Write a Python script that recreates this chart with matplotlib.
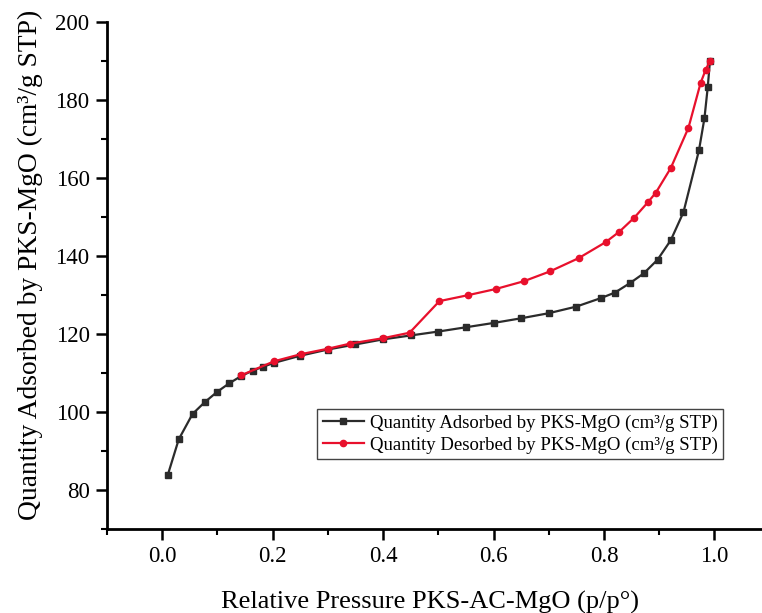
import matplotlib
matplotlib.use('Agg')
from matplotlib import pyplot as plt
from matplotlib.ticker import MultipleLocator

plt.rcParams['font.family'] = ['Liberation Serif', 'DejaVu Serif']

# adsorption branch
p_ads = [0.010, 0.030, 0.055, 0.077, 0.100, 0.121, 0.143, 0.164, 0.183, 0.203,
         0.250, 0.300, 0.350, 0.400, 0.450, 0.500, 0.550, 0.600, 0.650, 0.700,
         0.750, 0.795, 0.820, 0.847, 0.872, 0.897, 0.921, 0.944, 0.972, 0.982,
         0.988, 0.992]
q_ads = [83.8, 93.0, 99.5, 102.5, 105.2, 107.3, 109.2, 110.6, 111.6, 112.6,
         114.4, 116.0, 117.3, 118.6, 119.6, 120.6, 121.7, 122.8, 124.0, 125.3,
         127.0, 129.2, 130.6, 133.0, 135.5, 139.0, 144.0, 151.2, 167.0, 175.3,
         183.3, 190.0]

# desorption branch
p_des = [0.143, 0.203, 0.251, 0.300, 0.340, 0.400, 0.448, 0.502, 0.553, 0.604,
         0.655, 0.702, 0.754, 0.803, 0.828, 0.855, 0.880, 0.894, 0.921, 0.953,
         0.975, 0.984, 0.992]
q_des = [109.4, 113.0, 114.8, 116.2, 117.5, 118.9, 120.3, 128.4, 129.9, 131.5,
         133.5, 136.0, 139.4, 143.5, 146.2, 149.8, 153.8, 156.2, 162.5, 172.8,
         184.3, 187.6, 190.0]

fig = plt.figure(figsize=(7.62, 6.13), dpi=100)
ax = fig.add_axes([0.1404, 0.137, 0.8696, 0.8276])

ax.plot(p_ads, q_ads, color='#2b2b2b', lw=1.6, marker='s', ms=4.5,
        label='Quantity Adsorbed by PKS-MgO (cm³/g STP)')
ax.plot(p_des, q_des, color='#e8102c', lw=1.6, marker='o', ms=4.5,
        label='Quantity Desorbed by PKS-MgO (cm³/g STP)')

ax.set_xlim(-0.1, 1.1)
ax.set_ylim(70, 200)
ax.xaxis.set_minor_locator(MultipleLocator(0.1))
ax.yaxis.set_minor_locator(MultipleLocator(10))
ax.set_xticks([0.0, 0.2, 0.4, 0.6, 0.8, 1.0])
ax.set_yticks([80, 100, 120, 140, 160, 180, 200])

for side in ['top', 'right']:
    ax.spines[side].set_visible(False)
for side in ['left', 'bottom']:
    ax.spines[side].set_linewidth(2)
ax.tick_params(which='major', direction='out', length=8, width=1.8, labelsize=16.5,
               pad=4.5)
ax.tick_params(which='minor', direction='out', length=4, width=1.5)

ax.set_xlabel('Relative Pressure PKS-AC-MgO (p/p°)', fontsize=19, labelpad=17)
ax.set_ylabel('Quantity Adsorbed by PKS-MgO (cm³/g STP)', fontsize=19.8, labelpad=9)
ax.xaxis.label.set_x(0.488)
ax.yaxis.label.set_y(0.52)

leg = ax.legend(loc='upper left', bbox_to_anchor=(0.317, 0.237), fontsize=13.5,
                frameon=True, fancybox=False, edgecolor='#444444', framealpha=1,
                handlelength=2.2, numpoints=1, borderpad=0.3, labelspacing=0.25,
                handletextpad=0.3, borderaxespad=0)
leg.get_frame().set_linewidth(1.0)

fig.savefig('out.png', dpi=100)
